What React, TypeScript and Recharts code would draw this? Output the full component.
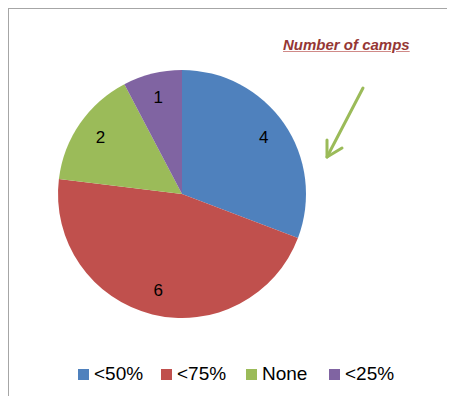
import { Cell, Legend, Pie, PieChart } from "recharts";

const categories = ["<50%", "<75%", "None", "<25%"];
const camps = [4, 6, 2, 1];
const colors = ["#4F81BD", "#C0504D", "#9BBB59", "#8064A2"];

const data = categories.map((name, i) => ({ name, value: camps[i] }));

const RAD = Math.PI / 180;

// Excel puts the value labels about 4/5 of the way out
const renderLabel = (p: any) => {
  const r = p.outerRadius * 0.8;
  const x = p.cx + r * Math.cos(-p.midAngle * RAD);
  const y = p.cy + r * Math.sin(-p.midAngle * RAD);
  return (
    <text
      x={x}
      y={y}
      textAnchor="middle"
      dominantBaseline="central"
      fill="#000"
      fontSize={17}
      fontFamily="Liberation Sans, Arial, sans-serif"
    >
      {p.value}
    </text>
  );
};

// fixed slot widths so the legend spreads like the Excel one
const slotWidths = [83, 85, 83, 70];

const LegendRow = () => (
  <div
    style={{
      display: "flex",
      paddingLeft: 78,
      fontFamily: "Liberation Sans, Arial, sans-serif",
      fontSize: 19,
      color: "#000",
    }}
  >
    {data.map((d, i) => (
      <div
        key={d.name}
        style={{ display: "flex", alignItems: "center", width: slotWidths[i] }}
      >
        <span
          style={{
            width: 11,
            height: 11,
            background: colors[i],
            display: "inline-block",
            marginRight: 5,
          }}
        />
        {d.name}
      </div>
    ))}
  </div>
);

export default function App() {
  return (
    <div
      style={{
        position: "relative",
        width: 455,
        height: 404,
        margin: -8,
        background: "#fff",
        overflow: "hidden",
      }}
    >
      <div
        style={{
          position: "absolute",
          left: 0,
          top: 0,
          width: 455,
          height: 1,
          background: "#a6a6a6",
        }}
      />
      <div
        style={{
          position: "absolute",
          left: 7,
          top: 7,
          width: 470,
          height: 420,
          borderLeft: "2px solid #a6a6a6",
          borderTop: "2px solid #a6a6a6",
        }}
      />
      <div style={{ position: "absolute", left: 0, top: 0 }}>
        <PieChart
          width={455}
          height={404}
          margin={{ top: 0, right: 0, bottom: 0, left: 0 }}
        >
          <Pie
            data={data}
            dataKey="value"
            nameKey="name"
            cx={182}
            cy={194}
            outerRadius={124}
            startAngle={90}
            endAngle={-270}
            stroke="none"
            label={renderLabel}
            labelLine={false}
            isAnimationActive={false}
          >
            {data.map((d, i) => (
              <Cell key={d.name} fill={colors[i]} />
            ))}
          </Pie>
          <Legend
            content={<LegendRow />}
            wrapperStyle={{ left: 0, top: 363, width: 455 }}
          />
        </PieChart>
      </div>
      <div
        style={{
          position: "absolute",
          left: 283,
          top: 36,
          fontFamily: "Liberation Sans, Arial, sans-serif",
          fontWeight: "bold",
          fontStyle: "italic",
          fontSize: 15,
          color: "#953735",
          textDecoration: "underline",
          textDecorationColor: "#d08a88",
        }}
      >
        Number of camps
      </div>
      <svg
        width={455}
        height={404}
        style={{ position: "absolute", left: 0, top: 0, pointerEvents: "none" }}
      >
        <g stroke="#9BBB59" strokeWidth={3} strokeLinecap="round" fill="none">
          <line x1={363} y1={88} x2={327} y2={157} />
          <polyline points="327,140 327,157 342,148" strokeLinejoin="round" />
        </g>
      </svg>
    </div>
  );
}
